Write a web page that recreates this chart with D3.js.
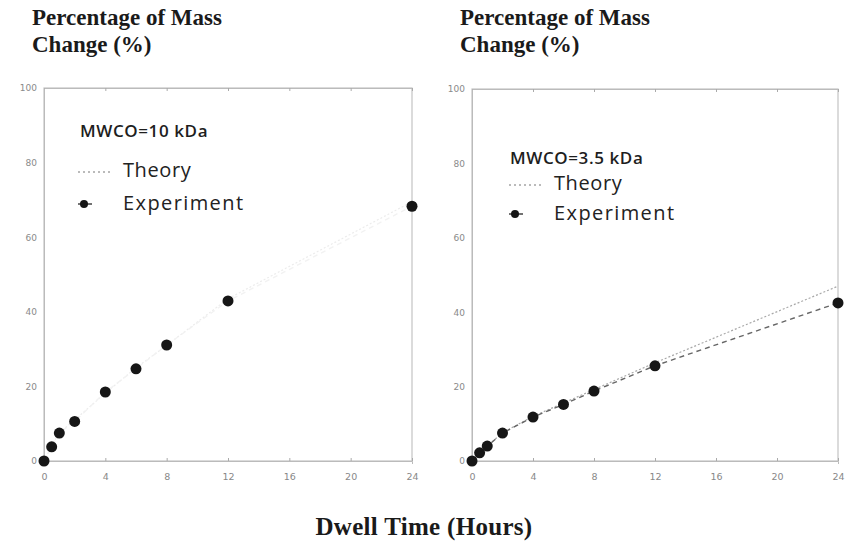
<!DOCTYPE html>
<html>
<head>
<meta charset="utf-8">
<script src="https://cdn.jsdelivr.net/npm/d3@7/dist/d3.min.js"></script>
<style>
  html, body { margin: 0; padding: 0; background: #fff; }
  svg { display: block; }
</style>
</head>
<body>
<svg id="chart" width="849" height="545"></svg>
<script>
// Dwell time (hours) at which mass change was measured
const hours = [0, 0.5, 1, 2, 4, 6, 8, 12, 24];

// MWCO = 10 kDa membrane
const experiment10 = [0, 3.8, 7.5, 10.6, 18.5, 24.7, 31.1, 42.9, 68.3];
const theory10 = [0, 4.0, 7.6, 11.0, 18.2, 25.0, 31.0, 43.5, 69.5];

// MWCO = 3.5 kDa membrane
const experiment35 = [0, 2.2, 4.0, 7.5, 11.8, 15.2, 18.8, 25.6, 42.5];
const theory35 = [0, 2.0, 4.0, 7.6, 12.0, 15.6, 19.2, 26.4, 47.0];

const xTicks = [0, 4, 8, 12, 16, 20, 24];
const yTicks = [0, 20, 40, 60, 80, 100];

const panelLabels = ["MWCO=10 kDa", "MWCO=3.5 kDa"];
const yTitleLines = ["Percentage of Mass", "Change (%)"];
const xTitle = "Dwell Time (Hours)";
const legendNames = ["Theory", "Experiment"];

const svg = d3.select("#chart");

const panels = [
  {
    label: panelLabels[0], exp: experiment10, theory: theory10,
    left: 44, right: 412, top: 88, bottom: 461,
    titleX: 32, labelPos: [80, 137], legendPos: [78, 172, 208],
    theoryColor: "#ececec", expLineColor: "#f2f2f2"
  },
  {
    label: panelLabels[1], exp: experiment35, theory: theory35,
    left: 472, right: 838, top: 89, bottom: 461,
    titleX: 460, labelPos: [510, 164], legendPos: [509, 185, 218],
    theoryColor: "#a8a8a8", expLineColor: "#666"
  }
];

panels.forEach(p => {
  const g = svg.append("g");
  const x = d3.scaleLinear().domain([0, 24]).range([p.left, p.right]);
  const y = d3.scaleLinear().domain([0, 100]).range([p.bottom, p.top]);

  // axis title above each panel
  const title = g.append("text")
    .attr("x", p.titleX).attr("y", 25)
    .attr("font-family", "Liberation Serif, Times New Roman, serif")
    .attr("font-weight", "bold").attr("font-size", 23)
    .attr("fill", "#1a1a1a");
  title.append("tspan").attr("x", p.titleX).attr("dy", 0).text(yTitleLines[0]);
  title.append("tspan").attr("x", p.titleX).attr("dy", 27).text(yTitleLines[1]);

  // frame
  g.append("rect")
    .attr("x", p.left).attr("y", p.top)
    .attr("width", p.right - p.left).attr("height", p.bottom - p.top)
    .attr("fill", "none").attr("stroke", "#c4c4c4").attr("stroke-width", 1.2);

  // bottom axis
  const xAxis = d3.axisBottom(x).tickValues(xTicks).tickSize(3).tickPadding(9);
  const gx = g.append("g").attr("transform", `translate(0,${p.bottom})`).call(xAxis);
  gx.select(".domain").attr("stroke", "#bbb");
  gx.selectAll(".tick line").attr("stroke", "#aaa").attr("y1", -3).attr("y2", 0);
  gx.selectAll(".tick text")
    .attr("font-family", "DejaVu Sans, sans-serif").attr("font-size", 9.5)
    .attr("fill", "#888");

  // top ticks mirrored
  const gt = g.append("g").attr("transform", `translate(0,${p.top})`)
    .call(d3.axisTop(x).tickValues(xTicks).tickSize(-3).tickFormat(""));
  gt.select(".domain").attr("stroke", "#bbb");
  gt.selectAll(".tick line").attr("stroke", "#aaa");

  // left axis
  const yAxis = d3.axisLeft(y).tickValues(yTicks).tickSize(0).tickPadding(7);
  const gy = g.append("g").attr("transform", `translate(${p.left},0)`).call(yAxis);
  gy.select(".domain").attr("stroke", "#bbb");
  gy.selectAll(".tick text")
    .attr("font-family", "DejaVu Sans, sans-serif").attr("font-size", 9)
    .attr("fill", "#8a8a8a");

  // theory curve
  const line = d3.line().x((d, i) => x(hours[i])).y(d => y(d));
  g.append("path").datum(p.theory)
    .attr("d", line)
    .attr("fill", "none").attr("stroke", p.theoryColor)
    .attr("stroke-width", 1.2).attr("stroke-dasharray", "2,2");

  // experiment connecting line
  g.append("path").datum(p.exp)
    .attr("d", line)
    .attr("fill", "none").attr("stroke", p.expLineColor)
    .attr("stroke-width", 1.4).attr("stroke-dasharray", "5,4");

  // experiment points
  g.selectAll("circle.pt").data(p.exp).enter().append("circle")
    .attr("class", "pt")
    .attr("cx", (d, i) => x(hours[i]))
    .attr("cy", d => y(d))
    .attr("r", 5.5)
    .attr("fill", "#161616");

  // in-plot label and legend
  g.append("text")
    .attr("x", p.labelPos[0]).attr("y", p.labelPos[1])
    .attr("font-family", "Open Sans, sans-serif").attr("font-weight", 600)
    .attr("font-size", 17).attr("letter-spacing", 0.6)
    .attr("fill", "#1e1e1e").text(p.label);

  const [lx, ty, ey] = p.legendPos;
  g.append("line")
    .attr("x1", lx).attr("x2", lx + 33).attr("y1", ty).attr("y2", ty)
    .attr("stroke", "#777").attr("stroke-width", 1).attr("stroke-dasharray", "2,3");
  g.append("text")
    .attr("x", lx + 45).attr("y", ty + 5)
    .attr("font-family", "Open Sans, sans-serif").attr("font-size", 20)
    .attr("letter-spacing", 0.6).attr("fill", "#222").text(legendNames[0]);

  g.append("line")
    .attr("x1", lx).attr("x2", lx + 17).attr("y1", ey - 4).attr("y2", ey - 4)
    .attr("stroke", "#444").attr("stroke-width", 1.4).attr("stroke-dasharray", "5,4");
  g.append("circle")
    .attr("cx", lx + 6).attr("cy", ey - 4).attr("r", 4)
    .attr("fill", "#161616");
  g.append("text")
    .attr("x", lx + 45).attr("y", ey + 2)
    .attr("font-family", "Open Sans, sans-serif").attr("font-size", 20)
    .attr("letter-spacing", 1.4).attr("fill", "#222").text(legendNames[1]);
});

// shared x-axis title
svg.append("text")
  .attr("x", 424).attr("y", 535).attr("text-anchor", "middle")
  .attr("font-family", "Liberation Serif, Times New Roman, serif")
  .attr("font-weight", "bold").attr("font-size", 25)
  .attr("letter-spacing", 0.3)
  .attr("fill", "#1a1a1a").text(xTitle);
</script>
</body>
</html>
